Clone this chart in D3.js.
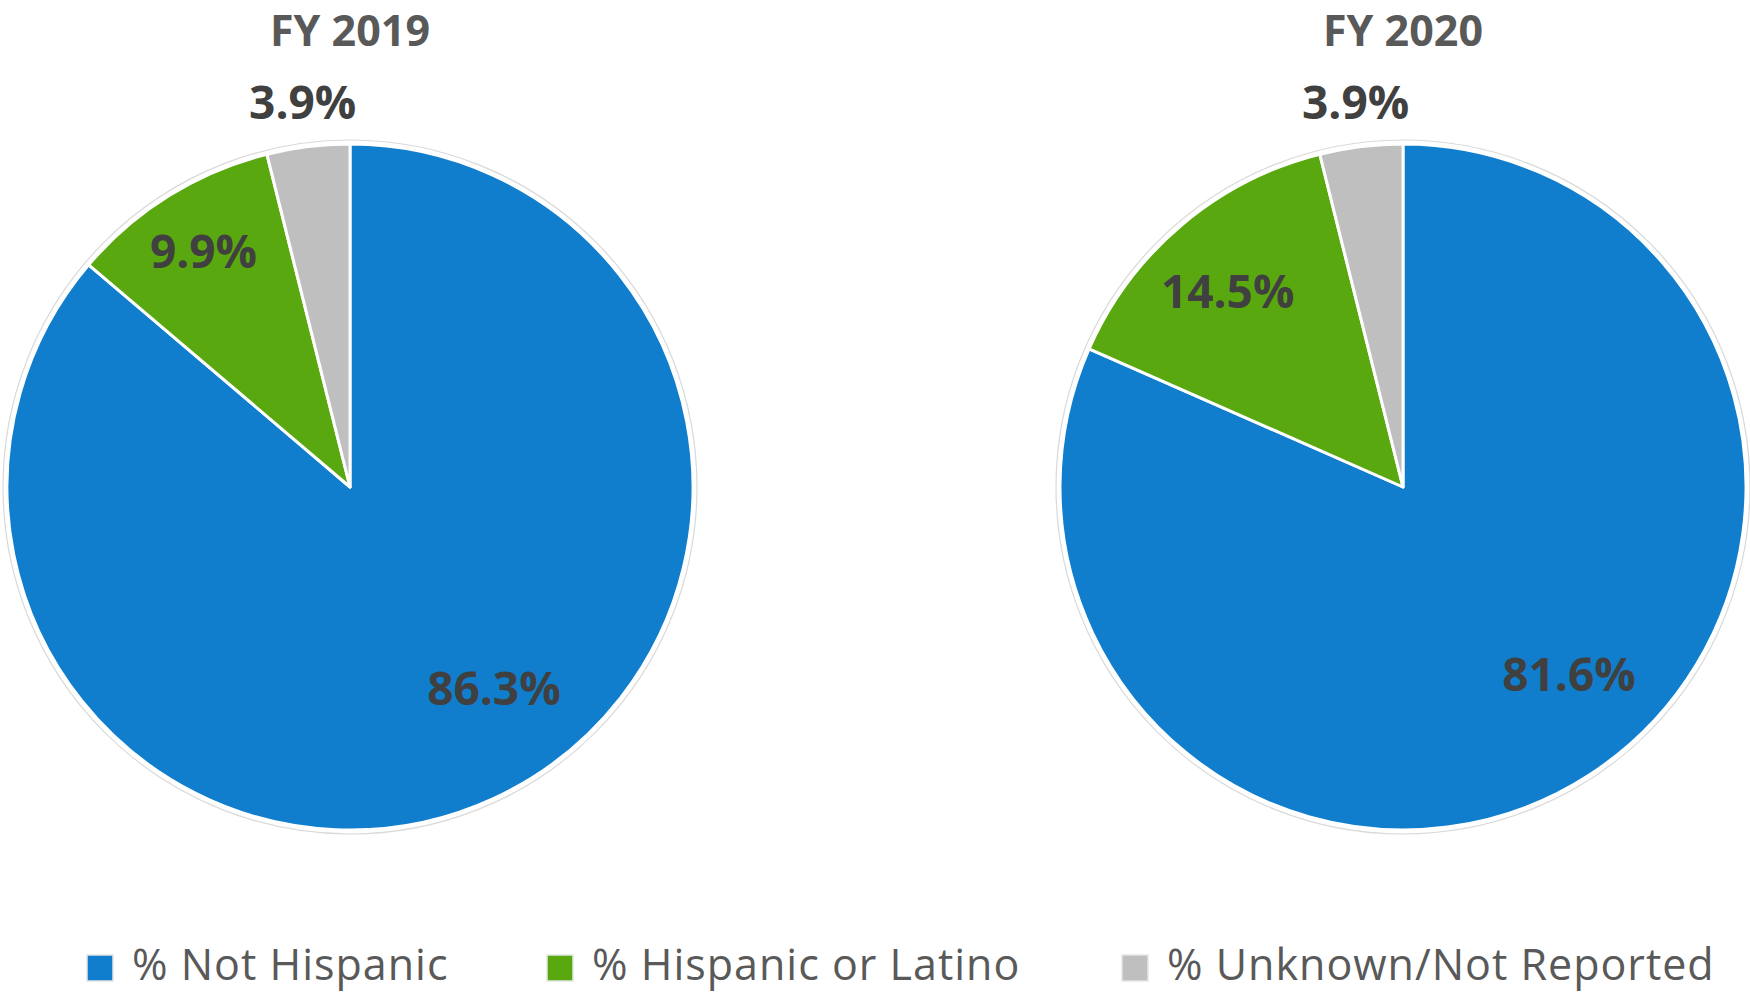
<!DOCTYPE html>
<html>
<head>
<meta charset="utf-8">
<script src="https://cdn.jsdelivr.net/npm/d3@7"></script>
<style>
    html, body { margin: 0; padding: 0; background: #fff; }
    svg { display: block; font-family: "Open Sans", sans-serif; }
</style>
</head>
<body>
<svg id="chart" width="1750" height="994"></svg>
<script>
// data
const categories = ["% Not Hispanic", "% Hispanic or Latino", "% Unknown/Not Reported"];
const years = ["FY 2019", "FY 2020"];
const values2019 = [86.3, 9.9, 3.9];
const values2020 = [81.6, 14.5, 3.9];
const colors = ["#107ecc", "#5aa80f", "#bfbfbf"];

const radius = 343;
const centers = [{x: 350, y: 487}, {x: 1403, y: 487}];
// label placement per pie and slice: radius factor and angle nudge (deg), like Excel "best fit"
const labelPos = [
    [{k: 0.722, shift: -10.7}, {k: 0.81, shift: 0}, {k: 1.13, shift: 0}],
    [{k: 0.73, shift: -8.4}, {k: 0.765, shift: -1.8}, {k: 1.13, shift: 0}]
];

const svg = d3.select("#chart");

const pie = d3.pie().sort(null).value((d) => d);
const arc = d3.arc().innerRadius(0).outerRadius(radius);

[values2019, values2020].forEach((vals, i) => {
    const c = centers[i];
    const g = svg.append("g").attr("transform", "translate(" + c.x + "," + c.y + ")");

    // faint outer ring
    g.append("circle")
        .attr("r", radius + 4)
        .attr("fill", "none")
        .attr("stroke", "#d9d9d9")
        .attr("stroke-width", 1.2);

    const arcs = pie(vals);

    g.selectAll("path.slice")
        .data(arcs)
        .enter()
        .append("path")
        .attr("class", "slice")
        .attr("d", arc)
        .attr("fill", (d, j) => colors[j])
        .attr("stroke", "#fff")
        .attr("stroke-width", 3)
        .attr("stroke-linejoin", "round");

    g.selectAll("text.lbl")
        .data(arcs)
        .enter()
        .append("text")
        .attr("class", "lbl")
        .attr("transform", (d, j) => {
            const p = labelPos[i][j];
            const mid = (d.startAngle + d.endAngle) / 2 + p.shift * Math.PI / 180;
            const r = radius * p.k;
            return "translate(" + (r * Math.sin(mid)) + "," + (-r * Math.cos(mid)) + ")";
        })
        .attr("dy", "0.36em")
        .attr("text-anchor", "middle")
        .attr("fill", "#404040")
        .style("font-size", "46px")
        .style("font-weight", "bold")
        .text((d) => d.data.toFixed(1) + "%");

    svg.append("text")
        .attr("x", c.x)
        .attr("y", 46)
        .attr("text-anchor", "middle")
        .attr("fill", "#595959")
        .style("font-size", "43px")
        .style("font-weight", "bold")
        .text(years[i]);
});

// legend
const legendX = [87, 547, 1122];
const legend = svg.append("g").attr("class", "legend");
categories.forEach((name, j) => {
    const lg = legend.append("g").attr("transform", "translate(" + legendX[j] + ",955)");
    lg.append("rect")
        .attr("x", 0).attr("y", 0)
        .attr("width", 26).attr("height", 26)
        .attr("fill", colors[j])
        .attr("stroke", "#e6e6e6")
        .attr("stroke-width", 1.5);
    lg.append("text")
        .attr("x", 45)
        .attr("y", 25)
        .attr("fill", "#595959")
        .style("font-size", "43px")
        .style("letter-spacing", "1px")
        .text(name);
});
</script>
</body>
</html>
